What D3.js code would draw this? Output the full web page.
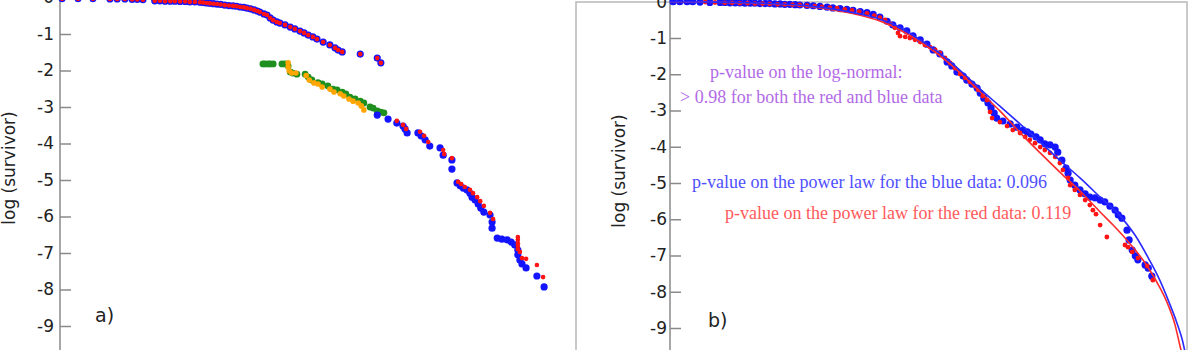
<!DOCTYPE html>
<html>
<head>
<meta charset="utf-8">
<script src="https://cdn.jsdelivr.net/npm/d3@7"></script>
<style>
  body { margin: 0; background: #fff; }
  svg { display: block; }
</style>
</head>
<body>
<svg id="chart" width="1200" height="350"></svg>
<script>
// ---- data: x = log(size) (arbitrary units), y = log(survivor) ----
const yTicks = [0, -1, -2, -3, -4, -5, -6, -7, -8, -9];

// panel a) upper branch (blue points with red overlay at same positions)
const aUpper = [
  [0.04,-0.03],[0.35,-0.03],[0.64,-0.03],[0.97,-0.04],[1.11,-0.04],[1.26,-0.04],[1.40,-0.05],[1.50,-0.05],[1.61,-0.06],
  [1.84,-0.09],[1.94,-0.09],[2.04,-0.10],[2.14,-0.10],[2.23,-0.10],[2.33,-0.11],[2.43,-0.11],[2.52,-0.12],[2.62,-0.12],[2.72,-0.13],
  [2.78,-0.14],[2.85,-0.15],[2.91,-0.16],[2.98,-0.17],[3.05,-0.18],[3.12,-0.19],[3.20,-0.21],[3.28,-0.22],[3.36,-0.23],[3.43,-0.24],
  [3.50,-0.26],[3.57,-0.27],[3.63,-0.29],[3.70,-0.31],[3.77,-0.34],[3.83,-0.37],[3.88,-0.40],[3.96,-0.45],[4.02,-0.48],[4.08,-0.56],
  [4.14,-0.62],[4.21,-0.67],[4.27,-0.70],[4.37,-0.75],[4.47,-0.81],[4.56,-0.86],[4.66,-0.92],[4.74,-0.97],[4.82,-1.03],[4.91,-1.08],
  [4.99,-1.14],[5.11,-1.22],[5.24,-1.30],[5.34,-1.38],[5.40,-1.44],[5.48,-1.49],[5.83,-1.55],[6.16,-1.66],[6.23,-1.79]
];

// panel a) middle branch
const aGreen = [
  [3.94,-1.82],[3.98,-1.82],[4.04,-1.82],[4.08,-1.82],[4.14,-1.82],[4.31,-1.82],[4.37,-1.82],[4.43,-1.88],[4.47,-2.04],
  [4.52,-2.07],[4.60,-2.10],[4.76,-2.10],[4.82,-2.18],[4.89,-2.26],[5.01,-2.33],[5.09,-2.37],[5.20,-2.42],[5.30,-2.51],
  [5.38,-2.53],[5.48,-2.59],[5.55,-2.64],[5.63,-2.73],[5.73,-2.78],[5.83,-2.84],[5.90,-2.89],[6.02,-3.00],[6.08,-3.03],
  [6.16,-3.11],[6.23,-3.14],[6.29,-3.16]
];
const aOrange = [
  [4.43,-1.79],[4.43,-1.90],[4.45,-2.01],[4.50,-2.07],[4.58,-2.07],[4.78,-2.14],[4.84,-2.26],[4.93,-2.34],[5.01,-2.37],
  [5.09,-2.45],[5.24,-2.51],[5.32,-2.59],[5.44,-2.64],[5.51,-2.70],[5.61,-2.78],[5.69,-2.84],[5.79,-2.89],[5.85,-2.97],[5.90,-3.08]
];

// panel a) lower branch
const aLowerBlue = [
  [6.16,-3.22],[6.37,-3.33],[6.54,-3.44],[6.66,-3.52],[6.70,-3.60],[6.74,-3.71],[6.95,-3.71],[7.01,-3.79],[7.09,-3.90],
  [7.18,-4.07],[7.38,-4.12],[7.44,-4.32],[7.61,-4.45],[7.61,-4.70],[7.71,-5.08],[7.77,-5.16],[7.83,-5.22],[7.90,-5.27],
  [7.96,-5.36],[8.00,-5.47],[8.06,-5.55],[8.12,-5.66],[8.17,-5.77],[8.23,-5.88],[8.35,-5.96],[8.39,-6.15],[8.39,-6.32],
  [8.49,-6.59],[8.58,-6.62],[8.68,-6.64],[8.76,-6.70],[8.83,-6.78],[8.89,-6.92],[8.89,-7.05],[8.93,-7.19],[8.97,-7.30],
  [9.05,-7.41],[9.26,-7.63],[9.40,-7.93]
];
const aLowerRed = [
  [6.54,-3.38],[6.66,-3.49],[6.72,-3.60],[6.99,-3.68],[7.07,-3.79],[7.15,-3.96],[7.44,-4.18],[7.46,-4.29],[7.61,-4.40],
  [7.73,-5.05],[7.79,-5.11],[7.86,-5.19],[7.96,-5.27],[8.02,-5.36],[8.10,-5.47],[8.16,-5.58],[8.23,-5.71],[8.35,-5.90],
  [8.41,-6.07],[8.89,-6.56],[8.89,-6.64],[8.89,-6.73],[8.89,-6.81],[8.89,-6.89],[8.93,-6.97],[8.97,-7.14],[9.05,-7.16],
  [9.26,-7.33],[9.38,-7.66]
];

// panel b) data
const bBlue = [
  [0.06,0.0],[0.19,0.0],[0.33,0.0],[0.44,0.0],[0.58,-0.01],[0.77,-0.02],[0.97,-0.02],[1.06,-0.02],[1.16,-0.03],[1.26,-0.03],
  [1.35,-0.03],[1.45,-0.04],[1.55,-0.04],[1.64,-0.04],[1.74,-0.05],[1.84,-0.05],[1.93,-0.05],[2.03,-0.06],[2.13,-0.06],
  [2.22,-0.07],[2.32,-0.07],[2.42,-0.08],[2.51,-0.09],[2.65,-0.10],[2.77,-0.11],[2.90,-0.13],[3.04,-0.15],[3.15,-0.17],
  [3.29,-0.19],[3.42,-0.21],[3.54,-0.24],[3.68,-0.27],[3.81,-0.30],[3.93,-0.35],[4.06,-0.42],[4.20,-0.54],[4.31,-0.64],
  [4.45,-0.72],[4.58,-0.80],[4.70,-0.94],[4.84,-1.05],[4.97,-1.17],[5.09,-1.33],[5.22,-1.44],[5.36,-1.66],[5.45,-1.77],
  [5.55,-1.94],[5.67,-2.05],[5.74,-2.16],[5.84,-2.27],[5.94,-2.38],[6.00,-2.52],[6.07,-2.66],[6.15,-2.79],[6.21,-2.93],
  [6.27,-3.07],[6.32,-3.21],[6.44,-3.29],[6.58,-3.37],[6.71,-3.46],[6.83,-3.54],[6.91,-3.59],[6.98,-3.65],[7.08,-3.73],
  [7.16,-3.81],[7.25,-3.92],[7.35,-3.95],[7.45,-4.01],[7.50,-4.15],[7.58,-4.37],[7.66,-4.59],[7.70,-4.73],[7.74,-4.92],
  [7.83,-5.06],[7.93,-5.19],[8.03,-5.30],[8.12,-5.39],[8.22,-5.41],[8.32,-5.47],[8.41,-5.52],[8.51,-5.64],[8.61,-5.75],
  [8.67,-5.88],[8.74,-5.97],[8.84,-6.30],[8.88,-6.57],[8.94,-6.85],[9.00,-7.01],[9.05,-7.12],[9.19,-7.26],[9.25,-7.35],[9.32,-7.57]
];
const bRed = [
  [0.68,-0.01],[0.87,-0.02],[1.06,-0.03],[1.20,-0.03],[1.35,-0.04],[1.50,-0.04],[1.64,-0.05],[1.79,-0.05],[1.93,-0.06],
  [2.08,-0.07],[2.22,-0.07],[2.37,-0.08],[2.51,-0.09],[2.65,-0.11],[2.80,-0.12],[2.94,-0.14],[3.09,-0.16],[3.23,-0.18],
  [3.38,-0.21],[3.52,-0.24],[3.66,-0.27],[3.81,-0.32],[3.95,-0.38],[4.06,-0.44],[4.16,-0.50],[4.26,-0.61],[4.35,-0.72],
  [4.41,-0.86],[4.45,-0.95],[4.55,-0.97],[4.64,-1.00],[4.74,-1.05],[4.84,-1.11],[4.93,-1.19],[5.03,-1.25],[5.13,-1.33],
  [5.22,-1.41],[5.32,-1.55],[5.42,-1.69],[5.51,-1.83],[5.61,-1.99],[5.71,-2.10],[5.80,-2.21],[5.90,-2.32],[5.96,-2.43],
  [6.05,-2.60],[6.13,-2.71],[6.19,-3.04],[6.23,-3.21],[6.38,-3.32],[6.52,-3.43],[6.63,-3.54],[6.77,-3.62],[6.87,-3.73],
  [6.96,-3.81],[7.06,-3.90],[7.16,-4.01],[7.25,-4.09],[7.35,-4.17],[7.45,-4.28],[7.54,-4.45],[7.60,-4.64],[7.70,-4.86],
  [7.74,-5.06],[7.83,-5.19],[7.93,-5.33],[8.03,-5.47],[8.12,-5.61],[8.18,-5.75],[8.24,-5.86],[8.32,-6.16],[8.45,-6.49],
  [8.80,-6.71],[8.86,-6.77],[8.94,-6.90],[9.05,-7.07],[9.23,-7.29],[9.34,-7.68]
];

// panel b) fitted log-normal survivor curves
const bBlueFit = [
  [0.00,0.00],[0.97,-0.01],[1.93,-0.05],[2.71,-0.12],[3.29,-0.23],[3.68,-0.34],[4.06,-0.48],[4.35,-0.64],[4.58,-0.81],
  [4.84,-1.06],[5.13,-1.33],[5.42,-1.66],[5.71,-2.02],[6.00,-2.41],[6.38,-2.88],[6.77,-3.37],[7.16,-3.87],[7.54,-4.37],
  [7.93,-4.86],[8.32,-5.39],[8.70,-5.90],[9.00,-6.45],[9.26,-7.09],[9.46,-7.64],[9.65,-8.28],[9.81,-8.88],[9.91,-9.33],[9.96,-9.65]
];
const bRedFit = [
  [0.00,0.00],[0.97,-0.02],[1.93,-0.06],[2.71,-0.14],[3.29,-0.26],[3.68,-0.37],[4.06,-0.53],[4.45,-0.78],[4.93,-1.19],
  [5.42,-1.72],[6.00,-2.49],[6.38,-3.01],[6.83,-3.70],[7.16,-4.17],[7.54,-4.70],[7.93,-5.22],[8.32,-5.80],[8.57,-6.16],
  [8.90,-6.68],[9.23,-7.29],[9.48,-7.90],[9.61,-8.28],[9.77,-8.92],[9.86,-9.47],[9.92,-9.83]
];

// ---- drawing ----
const svg = d3.select("#chart");
const fmt = d => String(d);

const xA = d3.scaleLinear().domain([0, 10]).range([60, 575]);
const yA = d3.scaleLinear().domain([0, -9]).range([-2.5, 326]);
const xB = d3.scaleLinear().domain([0, 10]).range([670, 1187]);
const yB = d3.scaleLinear().domain([0, -9]).range([1.75, 328]);

// frame around panel b)
svg.append("rect")
  .attr("x", 576).attr("y", 2).attr("width", 611).attr("height", 370)
  .attr("fill", "none").attr("stroke", "#b8b8b8").attr("stroke-width", 1.5);

function drawAxis(xs, ys, pad, labelX, labelY) {
  const g = svg.append("g").attr("transform", `translate(${xs.range()[0]},0)`);
  g.call(d3.axisLeft(ys).tickValues(yTicks).tickFormat(fmt)
      .tickSizeInner(-11).tickSizeOuter(0).tickPadding(pad));
  g.select(".domain").remove();
  g.selectAll(".tick line").attr("stroke", "#8a8a8a").attr("stroke-width", 1.5);
  g.selectAll(".tick text")
    .attr("fill", "#222").style("font-family", "'DejaVu Sans', sans-serif").style("font-size", "17px");
  g.append("line")
    .attr("x1", 0).attr("x2", 0)
    .attr("y1", ys(0.3)).attr("y2", ys(-9.8))
    .attr("stroke", "#8a8a8a").attr("stroke-width", 1.5);
  svg.append("text")
    .attr("transform", `translate(${labelX},${labelY}) rotate(-90)`)
    .attr("text-anchor", "middle")
    .attr("fill", "#222")
    .style("font-family", "'DejaVu Sans', sans-serif").style("font-size", "17px")
    .text("log (survivor)");
}

drawAxis(xA, yA, 6, 15, 168);
drawAxis(xB, yB, 3, 625, 171);

function dots(data, xs, ys, r, color) {
  svg.append("g").selectAll("circle").data(data).join("circle")
    .attr("cx", d => xs(d[0])).attr("cy", d => ys(d[1]))
    .attr("r", r).attr("fill", color);
}

// panel a)
dots(aUpper, xA, yA, 3.6, "#1414ff");
dots(aUpper, xA, yA, 2.3, "#ff1414");
dots(aGreen, xA, yA, 3.4, "#1f8f1f");
dots(aOrange, xA, yA, 2.8, "#ffa600");
dots(aLowerBlue, xA, yA, 3.6, "#1414ff");
dots(aLowerRed, xA, yA, 2.3, "#ff1414");

// panel b)
dots(bBlue, xB, yB, 3.6, "#1414ff");
dots(bRed, xB, yB, 2.4, "#ff1414");

const line = (xs, ys) => d3.line().x(d => xs(d[0])).y(d => ys(d[1])).curve(d3.curveMonotoneX);
svg.append("path").datum(bRedFit).attr("d", line(xB, yB))
  .attr("fill", "none").attr("stroke", "#ff2a2a").attr("stroke-width", 1.6);
svg.append("path").datum(bBlueFit).attr("d", line(xB, yB))
  .attr("fill", "none").attr("stroke", "#2a2aff").attr("stroke-width", 1.6);

// annotations
const serif = "'Liberation Serif', 'Times New Roman', serif";
function note(x, y, color, txt) {
  svg.append("text").attr("x", x).attr("y", y).attr("fill", color)
    .style("font-family", serif).style("font-size", "18px").text(txt);
}
note(710, 78, "#b36ae6", "p-value on the log-normal:");
note(680, 103, "#b36ae6", "> 0.98 for both the red and blue data");
note(692, 188, "#4f4fff", "p-value on the power law for the blue data: 0.096");
note(725, 219, "#ff5a5a", "p-value on the power law for the red data: 0.119");

svg.append("text").attr("x", 95).attr("y", 322).attr("fill", "#222")
  .style("font-family", "'DejaVu Sans', sans-serif").style("font-size", "19px").text("a)");
svg.append("text").attr("x", 708).attr("y", 327).attr("fill", "#222")
  .style("font-family", "'DejaVu Sans', sans-serif").style("font-size", "19px").text("b)");
</script>
</body>
</html>
